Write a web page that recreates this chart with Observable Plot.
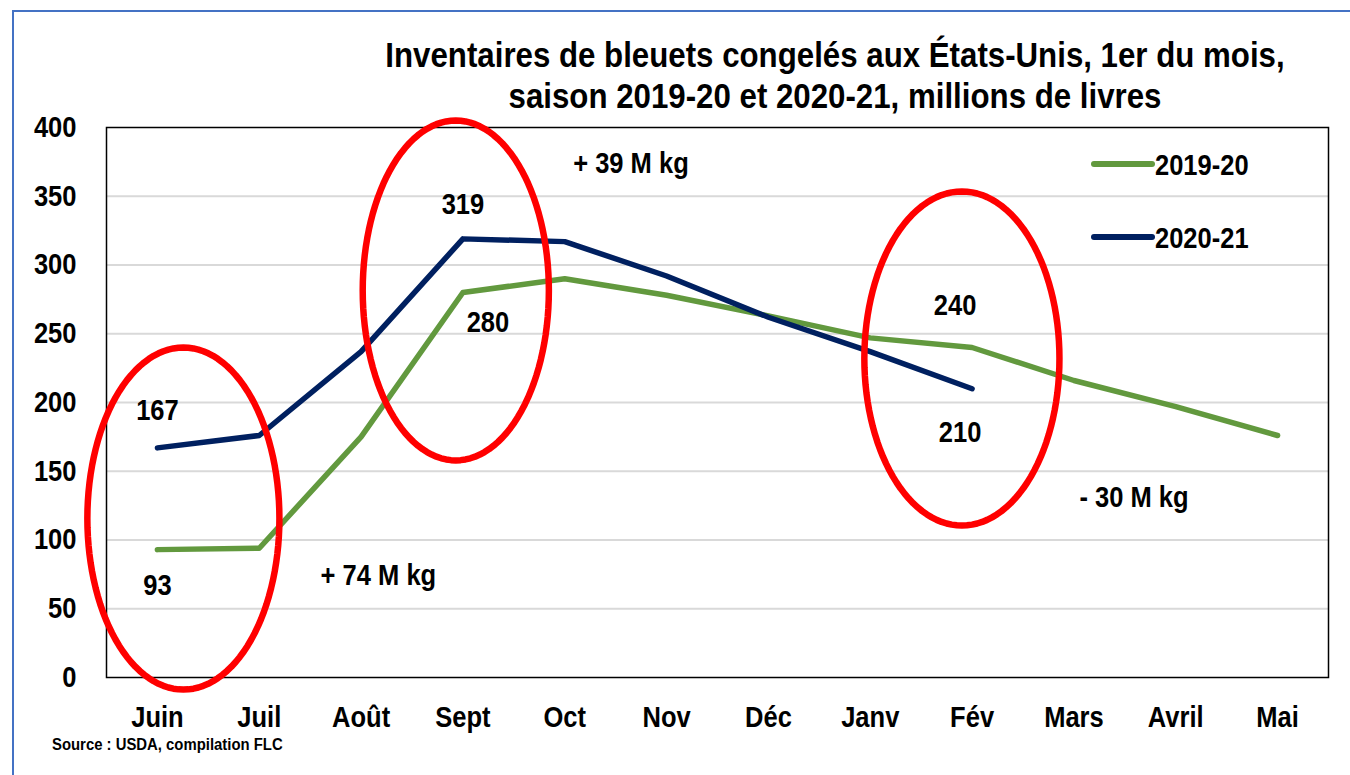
<!DOCTYPE html>
<html>
<head>
<meta charset="utf-8">
<script src="https://cdn.jsdelivr.net/npm/d3@7"></script>
<script src="https://cdn.jsdelivr.net/npm/@observablehq/plot@0.6"></script>
<style>
  html, body { margin: 0; padding: 0; background: #fff; }
  #wrap { position: relative; width: 1350px; height: 775px; overflow: hidden; background: #fff;
          font-family: "Liberation Sans", Arial, sans-serif; font-weight: bold; color: #000; }
  #border { position: absolute; left: 12px; top: 10px; width: 1400px; height: 800px;
            border-top: 2px solid #4472C4; border-left: 2px solid #4472C4; }
  #chart { position: absolute; left: 0; top: 0; }
  #title { position: absolute; left: 235px; width: 1200px; top: 35px; text-align: center; white-space: nowrap;
           font-size: 35.5px; line-height: 41px; transform: scaleX(0.88); transform-origin: 50% 50%; }
  #source { position: absolute; left: 52px; top: 736px; font-size: 16px; transform: scaleX(0.93); transform-origin: 0 50%; white-space: nowrap; }
  #legend { position: absolute; left: 0; top: 0; }
</style>
</head>
<body>
<div id="wrap">
  <div id="border"></div>
  <div id="chart"></div>
  <div id="title">Inventaires de bleuets congelés aux États-Unis, 1er du mois,<br>saison 2019-20 et 2020-21, millions de livres</div>
  <div id="source">Source : USDA, compilation FLC</div>
  <svg id="legend" width="1350" height="775"></svg>
</div>
<script>
// ---------- data ----------
const months = ["Juin", "Juil", "Août", "Sept", "Oct", "Nov", "Déc", "Janv", "Fév", "Mars", "Avril", "Mai"];
const seriesNames = ["2019-20", "2020-21"];
const values2019 = [93, 94, 175, 280, 290, 278, 263, 247, 240, 216, 197, 176];
const values2020 = [167, 176, 237, 319, 317, 292, 262, 237, 210];
const yTicks = [0, 50, 100, 150, 200, 250, 300, 350, 400];
const seriesColors = ["#62993E", "#002060"];

// points that carry a value label: [series, month]
const labelledPoints = [
  ["2020-21", "Juin"], ["2019-20", "Juin"],
  ["2020-21", "Sept"], ["2019-20", "Sept"],
  ["2019-20", "Fév"], ["2020-21", "Fév"]
];
const changeNotes = ["+ 74 M kg", "+ 39 M kg", "- 30 M kg"];

// ---------- layout (not data) ----------
const labelOffsets = [[0, -37], [0, 36], [0, -34], [25, 30], [-17, -42], [-12, 44]];
const notePlaces = [[2.17, 74], [4.65, 374], [9.59, 131]]; // in chart coordinates
const ellipseShapes = [ // centre x (month index), centre y, half-width, half-height
  [0.255, 115.6, 0.943, 124.4],
  [2.93, 281.5, 0.914, 123.6],
  [7.90, 232, 0.958, 121.5]
];

// ---------- build rows ----------
const rows = [];
values2019.forEach((v, i) => rows.push({series: seriesNames[0], i, month: months[i], v}));
values2020.forEach((v, i) => rows.push({series: seriesNames[1], i, month: months[i], v}));

const labelRows = labelledPoints.map(([s, m], k) => {
  const r = rows.find(d => d.series === s && d.month === m);
  return {...r, dx: labelOffsets[k][0], dy: labelOffsets[k][1], text: String(r.v)};
});
const noteRows = changeNotes.map((t, k) => ({text: t, x: notePlaces[k][0], y: notePlaces[k][1]}));

const ellipsePts = [];
ellipseShapes.forEach(([cx, cy, rx, ry], id) => {
  const n = 120;
  for (let k = 0; k < n; k++) {
    const a = 2 * Math.PI * k / n;
    ellipsePts.push({id, x: cx + rx * Math.cos(a), y: cy + ry * Math.sin(a)});
  }
});

const font = '"Liberation Sans", Arial, sans-serif';
const fs = 29;

const chart = Plot.plot({
  width: 1350,
  height: 775,
  marginLeft: 106,
  marginRight: 22,
  marginTop: 127,
  marginBottom: 98,
  style: {fontFamily: font, fontWeight: "bold", fontSize: fs + "px", color: "#000", background: "transparent"},
  x: {domain: [-0.5, 11.5], axis: null},
  y: {domain: [0, 400], axis: null},
  color: {domain: seriesNames, range: seriesColors},
  marks: [
    Plot.gridY(yTicks.filter(t => t > 0 && t < 400), {stroke: "#d9d9d9", strokeOpacity: 1, strokeWidth: 2}),
    Plot.frame({stroke: "#000", strokeWidth: 1.5}),
    Plot.axisY({ticks: yTicks, tickSize: 0, tickPadding: 30, fontSize: fs, fontWeight: "bold", tickFormat: d => String(d)}),
    Plot.axisX({ticks: d3.range(months.length), tickSize: 0, tickPadding: 29, fontSize: fs, fontWeight: "bold", tickFormat: i => months[i]}),
    Plot.line(rows, {x: "i", y: "v", z: "series", stroke: "series", strokeWidth: 5.5, strokeLinecap: "round", strokeLinejoin: "round"}),
    Plot.line(ellipsePts, {x: "x", y: "y", z: "id", curve: "linear-closed", stroke: "#FF0000", strokeWidth: 6.5}),
    ...labelRows.map(d => Plot.text([d], {x: "i", y: "v", text: "text", dx: d.dx, dy: d.dy, fontSize: fs, fontWeight: "bold", fill: "#000"})),
    Plot.text(noteRows, {x: "x", y: "y", text: "text", fontSize: fs, fontWeight: "bold", fill: "#000"})
  ]
});
document.getElementById("chart").appendChild(chart);

// legend
const lg = d3.select("#legend");
const legendPlaces = [[1094, 164], [1094, 237]];
seriesNames.forEach((s, k) => {
  const [lx, ly] = legendPlaces[k];
  lg.append("line").attr("x1", lx).attr("x2", lx + 58).attr("y1", ly).attr("y2", ly)
    .attr("stroke", seriesColors[k]).attr("stroke-width", 6).attr("stroke-linecap", "round");
  lg.append("text").attr("x", lx + 61).attr("y", ly).attr("dy", "0.36em")
    .attr("font-family", font).attr("font-weight", "bold").attr("font-size", 30).text(s);
});

// narrow the glyphs like the original (condensed bold face)
function condense(svgNode, factor) {
  svgNode.querySelectorAll("text").forEach(t => {
    const w = t.getComputedTextLength();
    if (w > 0) {
      t.setAttribute("textLength", (w * factor).toFixed(2));
      t.setAttribute("lengthAdjust", "spacingAndGlyphs");
    }
  });
}
condense(chart, 0.88);
condense(document.getElementById("legend"), 0.85);
</script>
</body>
</html>
